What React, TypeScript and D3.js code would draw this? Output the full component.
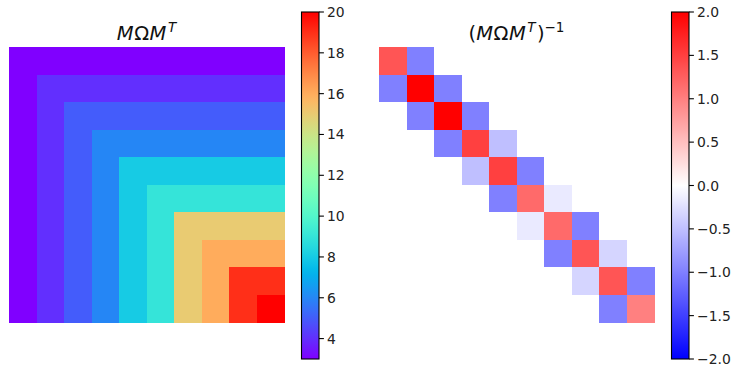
import React from "react";
import * as d3 from "d3";

// Covariance of a cumulative sum process: M Ω M^T, with M lower-triangular ones
const covRows: number[][] = [
  [3, 3, 3, 3, 3, 3, 3, 3, 3, 3],
  [3, 4, 4, 4, 4, 4, 4, 4, 4, 4],
  [3, 4, 5, 5, 5, 5, 5, 5, 5, 5],
  [3, 4, 5, 6, 6, 6, 6, 6, 6, 6],
  [3, 4, 5, 6, 8, 8, 8, 8, 8, 8],
  [3, 4, 5, 6, 8, 9, 9, 9, 9, 9],
  [3, 4, 5, 6, 8, 9, 15, 15, 15, 15],
  [3, 4, 5, 6, 8, 9, 15, 16, 16, 16],
  [3, 4, 5, 6, 8, 9, 15, 16, 19, 19],
  [3, 4, 5, 6, 8, 9, 15, 16, 19, 20],
];

// Its inverse (precision matrix), tridiagonal
const precRows: number[][] = [
  [1.333, -1, 0, 0, 0, 0, 0, 0, 0, 0],
  [-1, 2, -1, 0, 0, 0, 0, 0, 0, 0],
  [0, -1, 2, -1, 0, 0, 0, 0, 0, 0],
  [0, 0, -1, 1.5, -0.5, 0, 0, 0, 0, 0],
  [0, 0, 0, -0.5, 1.5, -1, 0, 0, 0, 0],
  [0, 0, 0, 0, -1, 1.167, -0.167, 0, 0, 0],
  [0, 0, 0, 0, 0, -0.167, 1.167, -1, 0, 0],
  [0, 0, 0, 0, 0, 0, -1, 1.333, -0.333, 0],
  [0, 0, 0, 0, 0, 0, 0, -0.333, 1.333, -1],
  [0, 0, 0, 0, 0, 0, 0, 0, -1, 1],
];

const covDomain: [number, number] = [3, 20];
const covTicks = [4, 6, 8, 10, 12, 14, 16, 18, 20];
const precDomain: [number, number] = [-2, 2];
const precTicks = [-2, -1.5, -1, -0.5, 0, 0.5, 1, 1.5, 2];

const FONT = "DejaVu Sans, Verdana, sans-serif";

// matplotlib-style "rainbow" colormap
const rainbow = (t: number) => {
  const c = (v: number) => Math.round(255 * Math.max(0, Math.min(1, v)));
  const r = Math.abs(2 * t - 0.5);
  const g = Math.sin(Math.PI * t);
  const b = Math.cos((Math.PI * t) / 2);
  return `rgb(${c(r)},${c(g)},${c(b)})`;
};
// blue-white-red diverging colormap
const bwr = d3.piecewise(d3.interpolateRgb, ["#0000ff", "#ffffff", "#ff0000"]);

const fmtMinus = (s: string) => s.replace("-", "\u2212");

type HeatProps = {
  rows: number[][];
  x0: number;
  x1: number;
  y0: number;
  y1: number;
  color: (v: number) => string;
};

function Heatmap({ rows, x0, x1, y0, y1, color }: HeatProps) {
  const idx = d3.range(rows.length);
  const xs = d3.scaleBand<number>().domain(idx).range([x0, x1]);
  const ys = d3.scaleBand<number>().domain(idx).range([y0, y1]);
  return (
    <g shapeRendering="crispEdges">
      {rows.map((row, i) =>
        row.map((v, j) => (
          <rect
            key={`${i}-${j}`}
            x={xs(j)}
            y={ys(i)}
            width={xs.bandwidth() + 0.5}
            height={ys.bandwidth() + 0.5}
            fill={color(v)}
          />
        ))
      )}
    </g>
  );
}

type BarProps = {
  id: string;
  x: number;
  w: number;
  y0: number;
  y1: number;
  domain: [number, number];
  ticks: number[];
  interp: (t: number) => string;
  fmt: (v: number) => string;
};

function Colorbar({ id, x, w, y0, y1, domain, ticks, interp, fmt }: BarProps) {
  const scale = d3.scaleLinear().domain(domain).range([y1, y0]);
  const stops = d3.range(0, 1.0001, 0.02);
  return (
    <g>
      <defs>
        <linearGradient id={id} x1="0" y1="1" x2="0" y2="0">
          {stops.map((s) => (
            <stop key={s} offset={s} stopColor={interp(s)} />
          ))}
        </linearGradient>
      </defs>
      <rect x={x} y={y0} width={w} height={y1 - y0} fill={`url(#${id})`} />
      <rect
        x={x}
        y={y0}
        width={w}
        height={y1 - y0}
        fill="none"
        stroke="#000"
        strokeWidth={1.1}
      />
      {ticks.map((t) => (
        <g key={t}>
          <line
            x1={x + w}
            x2={x + w + 4.9}
            y1={scale(t)}
            y2={scale(t)}
            stroke="#000"
            strokeWidth={1.1}
          />
          <text
            x={x + w + 8}
            y={scale(t)}
            dominantBaseline="central"
            fontFamily={FONT}
            fontSize={13.9}
            fill="#222"
          >
            {fmt(t)}
          </text>
        </g>
      ))}
    </g>
  );
}

export default function App() {
  const top = 47;
  const bottom = 322;
  const cbTop = 12;
  const cbBottom = 359;
  const covColor = (v: number) =>
    rainbow((v - covDomain[0]) / (covDomain[1] - covDomain[0]));
  const precColor = (v: number) =>
    bwr((v - precDomain[0]) / (precDomain[1] - precDomain[0]));

  const titleSize = 19.5;
  const supSize = 13.5;
  const supRise = 7.5;

  return (
    <svg
      width={732}
      height={367}
      style={{ position: "absolute", left: 0, top: 0, background: "#fff" }}
    >
      <rect width={732} height={367} fill="#fff" />

      <text
        x={146.5}
        y={39.5}
        textAnchor="middle"
        fontFamily={FONT}
        fontSize={titleSize}
        fill="#111"
      >
        <tspan fontStyle="italic">M</tspan>
        <tspan dx={0.5}>Ω</tspan>
        <tspan fontStyle="italic" dx={0.5}>M</tspan>
        <tspan fontStyle="italic" fontSize={supSize} dy={-supRise} dx={1.5}>
          T
        </tspan>
      </text>
      <Heatmap rows={covRows} x0={9} x1={284} y0={top} y1={bottom} color={covColor} />
      <Colorbar
        id="cb-cov"
        x={301.5}
        w={17.5}
        y0={cbTop}
        y1={cbBottom}
        domain={covDomain}
        ticks={covTicks}
        interp={rainbow}
        fmt={(v) => String(v)}
      />

      <text
        x={516.5}
        y={39.5}
        textAnchor="middle"
        fontFamily={FONT}
        fontSize={titleSize}
        fill="#111"
      >
        <tspan>(</tspan>
        <tspan fontStyle="italic">M</tspan>
        <tspan dx={0.5}>Ω</tspan>
        <tspan fontStyle="italic" dx={0.5}>M</tspan>
        <tspan fontStyle="italic" fontSize={supSize} dy={-supRise} dx={1.5}>
          T
        </tspan>
        <tspan dy={supRise} dx={1.5}>)</tspan>
        <tspan fontSize={supSize} dy={-supRise}>
          {"\u22121"}
        </tspan>
      </text>
      <Heatmap rows={precRows} x0={379} x1={654} y0={top} y1={bottom} color={precColor} />
      <Colorbar
        id="cb-prec"
        x={671.5}
        w={17.5}
        y0={cbTop}
        y1={cbBottom}
        domain={precDomain}
        ticks={precTicks}
        interp={bwr}
        fmt={(v) => fmtMinus(d3.format(".1f")(v))}
      />
    </svg>
  );
}
